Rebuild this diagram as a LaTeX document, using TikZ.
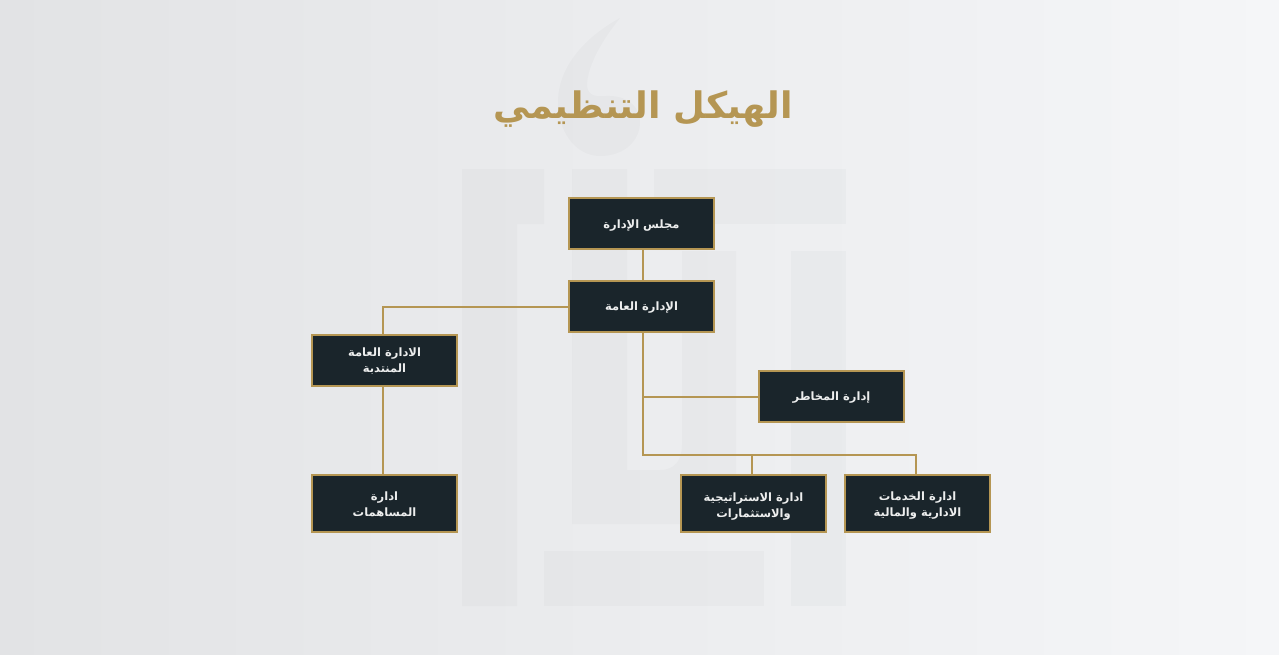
\documentclass[tikz,border=0pt]{standalone}
\usepackage{fontspec}
\usepackage{xcolor}
\usetikzlibrary{positioning}
\TeXXeTstate=1
\newfontfamily\arabicfont[Script=Arabic]{DejaVu Sans Bold}
\newcommand{\ar}[2][-4pt]{\raisebox{#1}[5pt][5pt]{\beginR #2\endR}}
\definecolor{gold}{HTML}{B59653}
\definecolor{boxdark}{HTML}{1A252B}
\definecolor{boxtext}{HTML}{EDEEEE}
\definecolor{bgleft}{HTML}{E2E3E5}
\definecolor{bgright}{HTML}{F5F6F8}
\definecolor{mark}{HTML}{7A7F85}
\tikzset{
  unitbox/.style={draw=gold,fill=boxdark,line width=2pt,text=boxtext,minimum width=145pt,
    minimum height=51pt,inner sep=0pt,align=center,font=\arabicfont\fontsize{11.5}{16}\selectfont},
  tallbox/.style={unitbox,minimum height=57pt},
  conn/.style={draw=gold,line width=2pt},
  wmark/.style={fill=mark,fill opacity=0.045}
}
\begin{document}
\begin{tikzpicture}[x=1pt,y=-1pt]
  \shade[left color=bgleft,right color=bgright] (0,0) rectangle (1279,654);
  \useasboundingbox (0,0) rectangle (1279,654);

  % watermark
  \fill[wmark] (462,169) -- (544,169) -- (544,224) -- (517,224) -- (517,606) -- (462,606) -- cycle;
  \fill[wmark] (572,169) -- (627,169) -- (627,470) -- (660,470)
    .. controls (675,470) and (682,460) .. (682,445) -- (682,251) -- (736,251) -- (736,524)
    -- (572,524) -- cycle;
  \fill[wmark] (654,169) rectangle (846,224);
  \fill[wmark] (791,251) rectangle (846,606);
  \fill[wmark] (544,551) rectangle (764,606);
  \fill[wmark] (620,18) .. controls (580,40) and (559,70) .. (558,100)
    .. controls (557,130) and (575,156) .. (600,156)
    .. controls (625,156) and (640,140) .. (640,122)
    .. controls (640,105) and (625,95) .. (606,96)
    .. controls (594,97) and (587,95) .. (587,84)
    .. controls (588,65) and (602,40) .. (620,18) -- cycle;

  \node (title) at (643,106) [text=gold,font=\arabicfont\fontsize{36.5}{44}\selectfont] {\ar[-12pt]{الهيكل التنظيمي}};

  \node[unitbox] (board)    at (641.5,223.5) {\ar[-5pt]{مجلس الإدارة}};
  \node[unitbox] (general)  at (641.5,306.5) {\ar{الإدارة العامة}};
  \node[unitbox] (deputy)   at (384.5,360.5) {\ar[-3.5pt]{الادارة العامة}\\\ar[-3.5pt]{المنتدبة}};
  \node[tallbox] (shares)   at (384.5,503.5) {\ar[-4.5pt]{ادارة}\\\ar[-4.5pt]{المساهمات}};
  \node[unitbox] (risk)     at (831.5,396.5) {\ar{إدارة المخاطر}};
  \node[tallbox] (strategy) at (753.5,503.5) {\ar[-5.5pt]{ادارة الاستراتيجية}\\\ar[-5.5pt]{والاستثمارات}};
  \node[tallbox] (services) at (917.5,503.5) {\ar[-4.5pt]{ادارة الخدمات}\\\ar[-4.5pt]{الادارية والمالية}};

  \coordinate (trunk) at (643,455);

  \draw[conn] ([xshift=1.5pt]board.south) -- ([xshift=1.5pt]general.north);
  \draw[conn] (general.west) -| ([xshift=-1.5pt]deputy.north);
  \draw[conn] ([xshift=-1.5pt]deputy.south) -- ([xshift=-1.5pt]shares.north);
  \draw[conn] ([xshift=1.5pt]general.south) -- (trunk) -| ([xshift=-1.5pt]services.north);
  \draw[conn] (risk.west) -- (risk.west -| trunk);
  \draw[conn] ([xshift=-1.5pt]strategy.north) -- ([xshift=-1.5pt]strategy.north |- trunk);
\end{tikzpicture}
\end{document}
